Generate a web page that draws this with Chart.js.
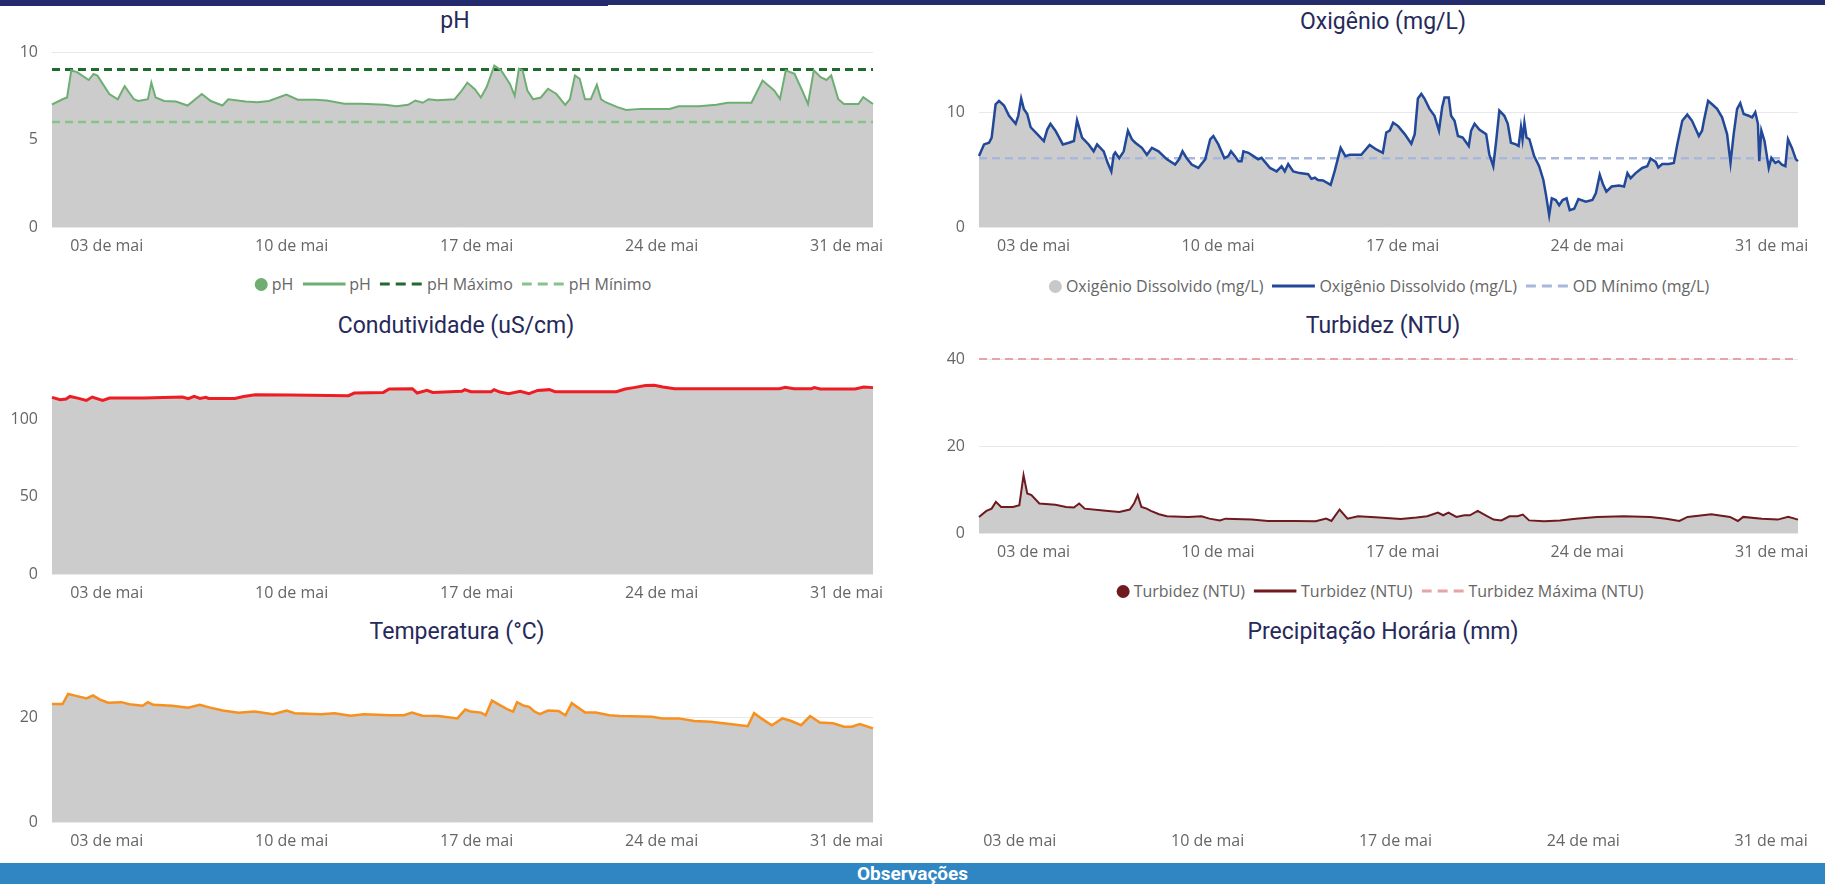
<!DOCTYPE html>
<html>
<head>
<meta charset="utf-8">
<script src="https://cdn.jsdelivr.net/npm/chart.js@4.4.0/dist/chart.umd.min.js"></script>
<style>
    body { margin: 0; background: #fff; font-family: 'Open Sans', sans-serif; }
    #page { position: relative; width: 1825px; height: 884px; overflow: hidden; }
    .bar-top { position: absolute; left: 0; top: 0; width: 1825px; height: 5px; background: #252c6c; }
    .bar-top-left { position: absolute; left: 0; top: 0; width: 608px; height: 6px; background: #232a6e; }
    .title { position: absolute; transform: translate(-50%, -50%); font: 400 23px Roboto, sans-serif; color: #26295a; white-space: nowrap; }
    .legend { position: absolute; transform: translate(-50%, -50%); display: flex; align-items: center; gap: 9px; font-size: 16px; color: #666; white-space: nowrap; }
    .item { display: flex; align-items: center; gap: 4px; }
    .dot { width: 13px; height: 13px; border-radius: 50%; display: inline-block; }
    canvas { position: absolute; }
    .bar-bottom { position: absolute; left: 0; top: 863px; width: 1825px; height: 21px; background: #2f86c3; color: #fff; font: bold 19px Roboto, sans-serif; text-align: center; line-height: 21px; }
</style>
</head>
<body>
<div id="page">
    <div class="bar-top"></div>
    <div class="bar-top-left"></div>
    <div class="bar-bottom">Observações</div>
</div>
<script>
// eixo x: dias de maio (1.0 = 01/05 00h)
const xTickDays = [3, 10, 17, 24, 31];
const xTickLabels = ['03 de mai', '10 de mai', '17 de mai', '24 de mai', '31 de mai'];

// pH
const phDays = [0.93, 1.33, 1.5, 1.66, 1.88, 2.32, 2.5, 2.65, 3.1, 3.42,
    3.68, 4.03, 4.19, 4.56, 4.69, 4.85, 5.18, 5.62, 6.06, 6.6,
    6.94, 7.38, 7.6, 8.26, 8.7, 9.14, 9.8, 10.23, 10.9, 11.33,
    12.0, 12.65, 13.53, 13.97, 14.41, 14.68, 14.96, 15.18, 15.51, 16.17,
    16.39, 16.65, 16.94, 17.16, 17.38, 17.67, 17.93, 18.26, 18.44, 18.6,
    18.74, 18.92, 19.14, 19.43, 19.7, 20.02, 20.35, 20.53, 20.72, 20.9,
    21.1, 21.32, 21.55, 21.71, 21.88, 22.33, 22.66, 23.2, 24.3, 24.64,
    25.4, 26.07, 26.5, 27.4, 27.82, 28.26, 28.48, 28.7, 29.03, 29.32,
    29.54, 29.76, 30.02, 30.24, 30.42, 30.68, 30.9, 31.45, 31.63, 32.0];
const phValues = [7.0, 7.3, 7.4, 8.95, 8.85, 8.4, 8.75, 8.65, 7.6, 7.3,
    8.05, 7.3, 7.2, 7.3, 8.25, 7.4, 7.2, 7.17, 6.94, 7.6,
    7.2, 6.94, 7.3, 7.17, 7.13, 7.2, 7.57, 7.27, 7.27, 7.23,
    7.04, 7.04, 6.98, 6.9, 6.98, 7.23, 7.1, 7.3, 7.25, 7.3,
    7.7, 8.25, 7.86, 7.4, 8.0, 9.23, 8.95, 8.18, 7.5, 9.05,
    8.95, 7.8, 7.3, 7.4, 7.9, 7.6, 6.98, 7.3, 8.66, 8.47,
    7.3, 7.3, 8.13, 7.3, 7.13, 6.85, 6.69, 6.75, 6.75, 6.9,
    6.9, 6.98, 7.1, 7.1, 8.37, 7.8, 7.32, 8.95, 8.75, 7.8,
    7.03, 8.95, 8.56, 8.4, 8.66, 7.32, 7.03, 7.03, 7.42, 7.03];
const phLimits = [9, 6]; // máximo, mínimo
const phYTicks = [0, 5, 10];

// oxigênio dissolvido
const odDays = [0.93, 1.12, 1.31, 1.41, 1.56, 1.69, 1.88, 2.07, 2.32, 2.42,
    2.53, 2.63, 2.76, 2.89, 3.14, 3.39, 3.52, 3.64, 3.83, 4.11,
    4.34, 4.53, 4.65, 4.84, 5.09, 5.28, 5.41, 5.66, 5.81, 5.95,
    6.04, 6.1, 6.25, 6.42, 6.58, 6.73, 6.86, 7.11, 7.3, 7.49,
    7.74, 8.06, 8.37, 8.52, 8.65, 8.81, 9.0, 9.25, 9.51, 9.7,
    9.82, 10.01, 10.24, 10.39, 10.49, 10.64, 10.77, 10.89, 10.96, 11.15,
    11.34, 11.52, 11.65, 11.97, 12.22, 12.41, 12.53, 12.66, 12.85, 13.1,
    13.42, 13.54, 13.67, 13.79, 13.98, 14.27, 14.42, 14.65, 14.83, 14.99,
    15.43, 15.75, 16.0, 16.25, 16.38, 16.51, 16.64, 16.83, 17.08, 17.33,
    17.46, 17.58, 17.71, 17.83, 18.02, 18.21, 18.38, 18.5, 18.59, 18.75,
    18.84, 18.97, 19.1, 19.28, 19.51, 19.6, 19.73, 19.91, 20.17, 20.29,
    20.44, 20.55, 20.67, 20.86, 20.99, 21.11, 21.3, 21.4, 21.49, 21.55,
    21.62, 21.7, 21.81, 21.99, 22.18, 22.34, 22.44, 22.56, 22.66, 22.81,
    22.94, 23.07, 23.22, 23.34, 23.51, 23.67, 23.95, 24.2, 24.33, 24.48,
    24.61, 24.73, 24.93, 25.21, 25.4, 25.53, 25.65, 25.84, 26.09, 26.28,
    26.41, 26.6, 26.7, 26.85, 27.1, 27.29, 27.42, 27.61, 27.8, 27.98,
    28.24, 28.36, 28.43, 28.59, 28.74, 28.93, 29.12, 29.31, 29.44, 29.56,
    29.69, 29.81, 29.94, 30.13, 30.26, 30.38, 30.48, 30.53, 30.61, 30.73,
    30.82, 30.89, 30.99, 31.14, 31.26, 31.39, 31.52, 31.62, 31.77, 31.92,
    32.0];
const odValues = [6.2, 7.2, 7.35, 7.8, 10.7, 11.0, 10.6, 9.7, 9.0, 9.7,
    11.2, 10.3, 9.85, 8.7, 8.1, 7.5, 8.5, 9.0, 8.4, 7.2,
    7.35, 7.5, 9.3, 7.8, 7.2, 6.6, 7.2, 6.6, 5.6, 4.85,
    6.3, 6.5, 6.0, 6.6, 8.4, 7.65, 7.35, 6.9, 6.3, 6.9,
    6.6, 5.9, 5.44, 5.9, 6.6, 6.0, 5.44, 5.15, 5.9, 7.65,
    7.94, 7.2, 6.0, 6.18, 6.6, 6.18, 5.74, 5.74, 6.6, 6.47,
    6.18, 5.9, 6.03, 5.15, 4.85, 5.3, 4.85, 5.5, 4.85, 4.7,
    4.6, 4.2, 4.3, 4.1, 4.06, 3.68, 4.85, 6.9, 6.18, 6.3,
    6.3, 7.15, 6.76, 6.47, 8.24, 8.4, 9.1, 8.8, 8.1, 7.26,
    8.1, 11.2, 11.6, 11.2, 10.3, 9.7, 8.4, 10.44, 11.3, 11.3,
    9.7, 9.26, 7.94, 7.8, 7.06, 8.4, 9.0, 8.5, 8.1, 6.32,
    5.3, 7.5, 10.15, 9.7, 9.0, 7.35, 7.2, 7.06, 8.7, 7.65,
    9.1, 7.8, 7.65, 6.18, 5.3, 4.1, 2.8, 1.03, 2.5, 2.35,
    1.9, 2.35, 2.5, 1.47, 1.6, 2.44, 2.2, 2.35, 2.94, 4.56,
    3.68, 3.09, 3.53, 3.62, 3.53, 4.7, 4.26, 4.7, 5.15, 5.3,
    5.97, 5.68, 5.2, 5.5, 5.5, 5.59, 7.2, 9.26, 9.8, 9.26,
    7.94, 8.4, 9.26, 11.0, 10.7, 10.3, 9.56, 8.1, 5.6, 8.1,
    10.3, 10.8, 9.85, 9.7, 9.56, 10.0, 9.0, 5.74, 8.4, 7.5,
    6.18, 5.15, 6.03, 5.59, 5.74, 5.44, 5.3, 7.65, 6.9, 5.9,
    5.74];
const odMinimo = 6;
const odYTicks = [0, 10];

// condutividade
const condDays = [0.93, 1.24, 1.46, 1.61, 1.9, 2.23, 2.45, 2.85, 3.11, 4.43,
    5.87, 6.09, 6.31, 6.53, 6.75, 6.86, 7.85, 8.18, 8.62, 9.94,
    12.15, 12.37, 13.47, 13.69, 14.57, 14.75, 15.12, 15.34, 16.44, 16.55,
    16.78, 17.55, 17.66, 17.88, 18.21, 18.65, 18.98, 19.31, 19.75, 19.97,
    22.29, 22.62, 22.95, 23.39, 23.72, 24.05, 24.49, 28.46, 28.68, 29.01,
    29.67, 29.78, 30.0, 31.32, 31.65, 32.0];
const condValues = [114.5, 113, 113.4, 115.1, 114, 112.5, 114.7, 112.5, 114, 114,
    114.7, 113.6, 115.1, 113.8, 114.5, 113.8, 113.8, 115.1, 116.2, 116,
    115.6, 117.3, 117.7, 119.9, 120.1, 117.3, 119, 117.7, 118.4, 119.5,
    118.2, 118.2, 119.5, 117.9, 116.9, 118.4, 116.9, 119, 119.5, 118.2,
    118.2, 119.9, 120.8, 122.1, 122.3, 121.2, 120.1, 120.1, 121, 120.1,
    120.1, 120.8, 119.9, 119.9, 121.2, 120.8];
const condYTicks = [0, 50, 100];

// turbidez
const turbDays = [0.93, 1.21, 1.41, 1.57, 1.77, 2.22, 2.46, 2.62, 2.76, 2.92,
    3.22, 3.83, 4.23, 4.53, 4.73, 4.94, 5.64, 6.25, 6.65, 6.81,
    6.95, 7.09, 7.29, 7.45, 7.76, 8.06, 8.86, 9.37, 9.67, 10.07,
    10.28, 11.28, 11.89, 12.89, 13.7, 14.1, 14.3, 14.61, 14.91, 15.31,
    16.12, 16.93, 17.53, 17.93, 18.34, 18.54, 18.74, 19.04, 19.34, 19.55,
    19.85, 20.15, 20.45, 20.75, 21.05, 21.36, 21.56, 21.8, 22.37, 22.97,
    23.57, 24.38, 25.39, 26.4, 27.0, 27.5, 27.81, 28.71, 29.42, 29.72,
    29.92, 30.63, 31.23, 31.63, 32.0];
const turbValues = [3.7, 5.08, 5.6, 7.15, 6.0, 6.0, 6.4, 13.3, 9.1, 8.7,
    6.77, 6.5, 6.0, 5.85, 6.77, 5.6, 5.2, 4.85, 5.4, 6.77,
    8.7, 6.0, 5.6, 5.08, 4.3, 3.85, 3.7, 3.85, 3.3, 2.9,
    3.3, 3.08, 2.77, 2.77, 2.7, 3.3, 2.77, 5.4, 3.3, 3.85,
    3.54, 3.23, 3.54, 3.85, 4.7, 4.08, 4.7, 3.7, 4.08, 4.08,
    5.08, 4.08, 3.08, 2.9, 3.85, 3.85, 4.23, 2.9, 2.7, 2.9,
    3.3, 3.7, 3.85, 3.7, 3.3, 2.77, 3.7, 4.3, 3.7, 2.77,
    3.7, 3.3, 3.08, 3.7, 3.08];
const turbMaxima = 40;
const turbYTicks = [0, 20, 40];

// temperatura
const tempDays = [0.93, 1.33, 1.54, 1.84, 2.24, 2.48, 2.75, 3.05, 3.55, 3.86,
    4.36, 4.56, 4.76, 5.47, 6.08, 6.52, 6.88, 7.39, 7.99, 8.6,
    9.3, 9.81, 10.11, 11.12, 11.62, 12.23, 12.73, 13.74, 14.25, 14.55,
    14.95, 15.56, 16.27, 16.57, 16.77, 17.17, 17.34, 17.58, 17.88, 18.18,
    18.38, 18.53, 18.79, 18.99, 19.19, 19.39, 19.7, 20.1, 20.36, 20.6,
    20.8, 21.11, 21.51, 22.02, 22.42, 23.63, 24.03, 24.64, 25.24, 25.85,
    26.66, 27.26, 27.5, 27.77, 28.17, 28.57, 28.88, 29.28, 29.62, 29.99,
    30.49, 30.9, 31.2, 31.5, 32.0];
const tempValues = [22.55, 22.55, 24.46, 24.1, 23.6, 24.2, 23.4, 22.8, 22.9, 22.5,
    22.2, 22.9, 22.4, 22.2, 21.85, 22.4, 21.9, 21.3, 20.9, 21.1,
    20.6, 21.3, 20.8, 20.6, 20.8, 20.3, 20.6, 20.4, 20.4, 20.9,
    20.3, 20.25, 19.8, 21.5, 21.1, 20.9, 20.4, 23.2, 22.35, 21.5,
    21.1, 22.9, 22.2, 22.0, 21.1, 20.6, 21.3, 21.2, 20.4, 22.7,
    22.0, 20.9, 20.9, 20.4, 20.25, 20.1, 19.8, 19.8, 19.3, 19.16,
    18.7, 18.3, 20.8, 19.8, 18.5, 19.8, 19.35, 18.5, 20.25, 19.0,
    18.85, 18.2, 18.2, 18.7, 17.9];
const tempYTicks = [0, 20];

// precipitação horária: sem registros no período
const precDays = [];
const precValues = [];

Chart.defaults.font.family = "'Open Sans', sans-serif";

const page = document.getElementById('page');
const leftCol = [0, 912], rightCol = [912, 1825];
const xMax = 32;
const gray = '#cccccc';
const padTop = 24;

function pts(days, vals) {
    return days.map((d, i) => ({ x: d, y: vals[i] }));
}
function hline(v, x0) {
    return [{ x: x0, y: v }, { x: xMax, y: v }];
}
function area(data) {
    return { data: data, fill: 'origin', backgroundColor: gray, borderColor: 'transparent', borderWidth: 0 };
}
function line(data, color, width, dash) {
    return { data: data, fill: false, borderColor: color, borderWidth: width, borderDash: dash || [], clip: false };
}

function addTitle(text, x, y) {
    const d = document.createElement('div');
    d.className = 'title';
    d.textContent = text;
    d.style.left = x + 'px';
    d.style.top = y + 'px';
    page.appendChild(d);
}

function addLegend(items, x, y) {
    const d = document.createElement('div');
    d.className = 'legend';
    d.style.left = x + 'px';
    d.style.top = y + 'px';
    items.forEach(it => {
        const s = document.createElement('span');
        s.className = 'item';
        let mark;
        if (it.type === 'dot') {
            mark = '<span class="dot" style="background:' + it.color + '"></span>';
        } else {
            mark = '<svg width="43" height="6"><line x1="0" y1="3" x2="43" y2="3" stroke="' + it.color +
                '" stroke-width="3" stroke-dasharray="' + (it.dash ? '10 6' : 'none') + '"/></svg>';
        }
        s.innerHTML = mark + '<span>' + it.label + '</span>';
        d.appendChild(s);
    });
    page.appendChild(d);
}

function makeChart(cfg) {
    const c = document.createElement('canvas');
    const top = cfg.area.T - padTop;
    c.width = cfg.col[1] - cfg.col[0];
    c.height = cfg.area.B + 34 - top;
    c.style.left = cfg.col[0] + 'px';
    c.style.top = top + 'px';
    page.appendChild(c);
    const hasY = !!cfg.yTicks;
    return new Chart(c, {
        type: 'line',
        data: { datasets: cfg.datasets },
        options: {
            responsive: false,
            animation: false,
            layout: { padding: { top: padTop, right: cfg.col[1] - cfg.area.R, left: 0, bottom: 0 } },
            plugins: { legend: { display: false }, tooltip: { enabled: false } },
            elements: { point: { radius: 0 }, line: { tension: 0 } },
            scales: {
                x: {
                    type: 'linear', min: cfg.xMin, max: xMax,
                    grid: { display: false, drawTicks: false },
                    border: { display: false },
                    afterBuildTicks: s => { s.ticks = xTickDays.map(v => ({ value: v })); },
                    afterFit: s => { s.height = 34; },
                    ticks: { padding: 10, color: '#666', font: { size: 16 }, maxRotation: 0, autoSkip: false,
                        callback: (v, i) => xTickLabels[i] }
                },
                y: {
                    display: hasY, min: 0, max: cfg.yMax,
                    grid: { color: '#e8e8e8', drawTicks: false },
                    border: { display: false },
                    afterBuildTicks: s => { if (hasY) s.ticks = cfg.yTicks.map(v => ({ value: v })); },
                    afterFit: s => { s.width = cfg.area.L - cfg.col[0]; },
                    ticks: { padding: 14, color: '#666', font: { size: 16 } }
                }
            }
        }
    });
}

const xMin = 0.93;

// pH
addTitle('pH', 455, 20);
makeChart({
    col: leftCol, area: { L: 52, T: 52, R: 873, B: 227 }, xMin: xMin, yMax: 10, yTicks: phYTicks,
    datasets: [
        line(pts(phDays, phValues), '#6fae72', 2),
        line(hline(phLimits[0], xMin), '#1f6b2c', 3, [8, 5]),
        line(hline(phLimits[1], xMin), '#86c489', 2.5, [8, 5]),
        area(pts(phDays, phValues))
    ]
});
addLegend([
    { type: 'dot', color: '#6fae72', label: 'pH' },
    { type: 'line', color: '#6fae72', label: 'pH' },
    { type: 'line', color: '#1f6b2c', dash: true, label: 'pH Máximo' },
    { type: 'line', color: '#86c489', dash: true, label: 'pH Mínimo' }
], 453, 284);

// Oxigênio
addTitle('Oxigênio (mg/L)', 1383, 21);
makeChart({
    col: rightCol, area: { L: 979, T: 55, R: 1798, B: 227 }, xMin: xMin, yMax: 15, yTicks: odYTicks,
    datasets: [
        line(pts(odDays, odValues), '#22489a', 2.5),
        line(hline(odMinimo, xMin), '#a9b7dc', 2.5, [8, 5]),
        area(pts(odDays, odValues))
    ]
});
addLegend([
    { type: 'dot', color: '#c8c8c8', label: 'Oxigênio Dissolvido (mg/L)' },
    { type: 'line', color: '#22489a', label: 'Oxigênio Dissolvido (mg/L)' },
    { type: 'line', color: '#a9b7dc', dash: true, label: 'OD Mínimo (mg/L)' }
], 1379, 286);

// Condutividade
addTitle('Condutividade (uS/cm)', 456, 325);
makeChart({
    col: leftCol, area: { L: 52, T: 358, R: 873, B: 574 }, xMin: xMin, yMax: 140, yTicks: condYTicks,
    datasets: [
        line(pts(condDays, condValues), '#ee1d23', 3),
        area(pts(condDays, condValues))
    ]
});

// Turbidez
addTitle('Turbidez (NTU)', 1383, 325);
makeChart({
    col: rightCol, area: { L: 979, T: 359, R: 1798, B: 533 }, xMin: xMin, yMax: 40, yTicks: turbYTicks,
    datasets: [
        line(pts(turbDays, turbValues), '#6e1a1e', 2),
        line(hline(turbMaxima, xMin), '#e7a3a6', 2, [8, 5]),
        area(pts(turbDays, turbValues))
    ]
});
addLegend([
    { type: 'dot', color: '#6e1a1e', label: 'Turbidez (NTU)' },
    { type: 'line', color: '#6e1a1e', label: 'Turbidez (NTU)' },
    { type: 'line', color: '#e7a3a6', dash: true, label: 'Turbidez Máxima (NTU)' }
], 1380, 591);

// Temperatura
addTitle('Temperatura (°C)', 457, 631);
makeChart({
    col: leftCol, area: { L: 52, T: 665, R: 873, B: 822 }, xMin: xMin, yMax: 30, yTicks: tempYTicks,
    datasets: [
        line(pts(tempDays, tempValues), '#f7901e', 2.5),
        area(pts(tempDays, tempValues))
    ]
});

// Precipitação
addTitle('Precipitação Horária (mm)', 1383, 631);
makeChart({
    col: rightCol, area: { L: 979, T: 665, R: 1798, B: 822 }, xMin: 1.48, yMax: 1, yTicks: null,
    datasets: [
        { data: pts(precDays, precValues), backgroundColor: '#2f86c3' }
    ]
});
</script>
</body>
</html>
